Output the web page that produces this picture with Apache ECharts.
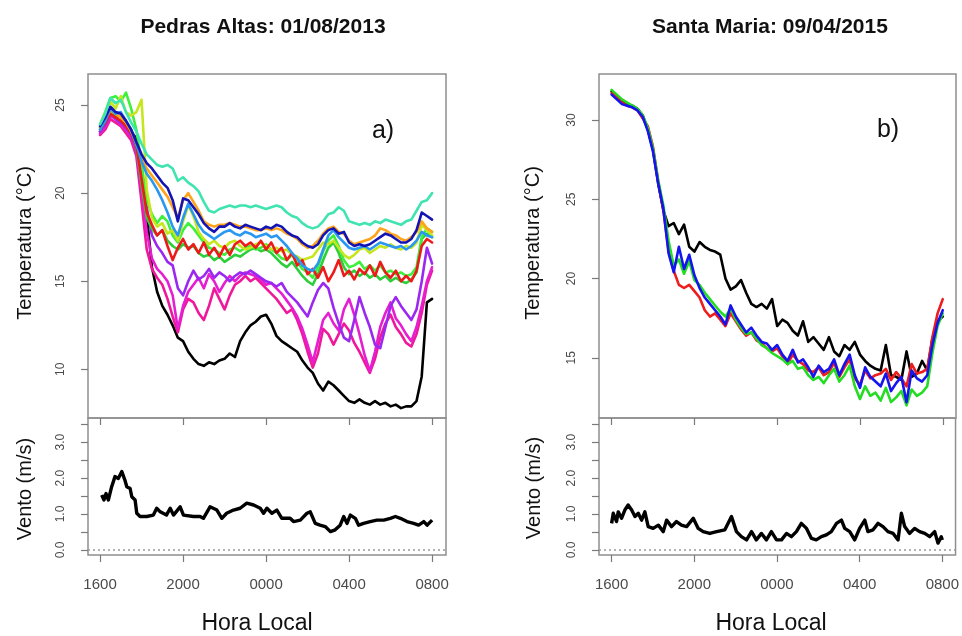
<!DOCTYPE html>
<html>
<head>
<meta charset="utf-8">
<script src="https://cdn.jsdelivr.net/npm/echarts@6/dist/echarts.min.js"></script>
<style>
  html, body { margin: 0; padding: 0; background: #fff; }
  #chart { width: 962px; height: 636px; }
</style>
</head>
<body>
<div id="chart"></div>
<script>
const FONT = '"Liberation Sans", Arial, Helvetica, sans-serif';

// Hours elapsed since 16:00 local time, one sample every 15 minutes (16:00 .. 08:00)
const hours = Array.from({ length: 65 }, (_, i) => i * 0.25);
const hourTicks = [0, 4, 8, 12, 16];
const hourLabels = ['1600', '2000', '0000', '0400', '0800'];

const tempTicksA = [10, 15, 20, 25];
const tempTicksB = [15, 20, 25, 30];
const windTicks = [0, 0.5, 1, 1.5, 2, 2.5, 3, 3.5];
const windLabelTicks = [0, 1, 2, 3];

// ---- Pedras Altas, 01/08/2013: air temperature at each station (°C) ----
const paBlack = [
  23.5,23.8,24.4,24.3,24.0,23.9,23.5,23.1,21.5,18.8,15.8,14.4,13.6,13.1,12.5,11.8,
  11.6,11.0,10.6,10.3,10.2,10.4,10.3,10.5,10.6,10.9,10.7,11.6,12.1,12.5,12.7,13.0,
  13.1,12.6,11.9,11.6,11.4,11.2,11.0,10.5,10.1,9.8,9.2,8.8,9.3,9.1,8.8,8.5,
  8.2,8.1,8.3,8.1,8.0,8.2,8.0,8.1,7.9,8.0,7.8,7.9,7.9,8.2,9.6,13.8,
  14.0];
const paDeepPink = [
  23.3,23.6,24.2,24.0,23.8,23.4,23.0,22.1,19.5,16.8,15.7,15.2,14.8,14.0,13.0,12.1,
  13.4,14.0,13.8,13.2,12.8,13.6,14.6,14.0,13.4,14.2,14.8,15.0,15.3,15.0,15.2,14.9,
  14.6,14.3,14.0,13.6,13.2,13.4,12.8,12.0,11.0,10.1,10.9,12.3,12.0,11.4,12.0,12.6,
  12.2,11.5,11.0,10.4,9.8,10.6,11.8,12.6,13.1,12.4,12.0,11.5,11.3,12.0,13.2,14.8,
  15.6];
const paMagenta = [
  23.4,23.8,24.4,24.2,23.9,23.6,23.2,22.4,20.2,17.8,16.3,15.7,15.4,15.0,14.2,12.3,
  13.6,14.4,14.8,15.2,14.6,15.4,15.0,14.4,14.9,15.3,15.0,15.3,15.5,15.4,15.3,15.1,
  14.8,14.9,14.6,14.3,13.9,13.5,13.0,12.3,11.4,10.4,11.6,12.8,13.2,12.6,12.2,13.4,
  14.0,13.1,12.0,10.8,9.9,11.0,12.4,13.2,13.8,12.9,12.5,12.0,11.6,12.4,13.6,15.0,
  15.8];
const paPurple = [
  23.5,23.9,24.5,24.2,24.0,23.7,23.3,22.5,20.9,19.2,17.6,17.0,16.6,16.1,15.9,14.6,
  14.2,15.0,15.6,15.1,15.3,15.7,15.2,15.5,15.3,15.0,15.3,15.5,15.4,15.6,15.4,15.2,
  15.0,14.9,14.7,14.9,14.4,14.1,13.8,13.4,13.0,13.8,14.5,14.9,14.6,13.5,12.6,11.8,
  11.6,12.8,14.1,13.2,12.4,11.4,11.2,12.4,13.6,14.1,13.6,13.2,12.8,13.4,15.0,16.9,
  16.0];
const paGreen = [
  23.7,24.2,24.6,24.4,24.3,24.0,23.6,22.6,20.5,18.6,18.0,17.6,17.9,17.3,17.0,16.8,
  17.1,16.9,17.0,16.6,16.4,16.5,16.2,16.4,16.1,16.3,16.5,16.4,16.6,16.8,16.9,16.7,
  16.8,16.6,16.3,16.0,15.8,16.1,15.7,15.3,15.0,14.8,15.4,16.2,16.9,17.2,16.6,15.8,
  15.4,15.6,15.3,15.5,15.2,15.4,15.1,15.3,15.0,15.2,15.0,14.9,15.1,15.5,17.4,17.7,
  17.5];
const paLime = [
  23.9,24.6,25.4,25.5,25.2,25.7,24.8,23.6,21.6,19.6,18.8,18.3,18.7,18.4,17.6,17.2,
  17.9,18.3,18.0,17.6,17.2,16.9,16.8,16.6,16.5,16.8,16.9,16.7,16.9,17.0,16.8,16.9,
  17.1,16.8,16.6,16.3,16.2,16.5,16.1,15.7,15.5,15.2,15.8,16.7,17.3,17.6,17.0,16.2,
  15.8,15.9,16.1,15.7,15.9,15.6,15.9,15.5,15.6,15.4,15.5,15.3,15.4,15.8,17.5,18.0,
  17.8];
const paYellowGreen = [
  23.8,24.5,25.2,24.8,25.5,24.6,24.4,24.6,25.3,20.2,18.6,18.1,18.3,17.7,17.9,17.3,
  18.4,19.3,18.7,17.8,17.4,17.1,17.3,17.0,16.9,17.2,17.3,17.0,16.8,16.9,17.1,17.2,
  17.0,16.8,16.9,16.7,16.8,16.5,16.4,16.2,16.3,16.4,16.8,17.2,17.1,17.3,16.9,16.5,
  16.3,16.5,16.8,16.9,16.6,16.8,17.0,16.9,17.1,16.9,16.8,17.0,16.9,17.2,18.2,17.9,
  17.6];
const paRed = [
  23.6,24.0,24.5,24.3,24.1,23.8,23.4,22.7,20.8,18.9,18.2,17.6,17.9,17.0,16.2,16.9,
  17.4,16.8,17.1,16.6,17.2,16.5,16.9,16.4,17.0,16.5,17.1,17.3,17.0,17.2,16.9,17.3,
  16.8,17.2,16.6,16.9,16.2,16.6,15.9,16.2,15.4,15.7,15.2,15.8,15.0,15.5,16.2,15.3,
  15.6,15.1,15.7,15.4,15.9,15.3,16.1,15.5,15.2,15.6,15.0,15.3,15.0,15.6,17.0,17.4,
  17.2];
const paOrange = [
  23.7,24.2,24.7,24.5,24.3,24.0,23.5,22.8,22.0,21.4,21.0,20.6,20.2,19.8,19.2,18.6,
  19.6,20.0,19.5,19.0,18.4,18.2,18.1,18.2,18.2,18.3,18.2,18.1,18.1,18.0,17.9,17.9,
  18.0,17.9,18.0,17.9,17.7,17.6,17.4,17.1,16.9,17.0,17.3,17.7,18.0,18.1,17.8,17.7,
  17.3,17.1,17.2,17.3,17.4,17.6,18.0,17.9,17.7,17.6,17.4,17.3,17.5,17.8,18.4,18.0,
  17.8];
const paSkyBlue = [
  23.6,24.1,24.8,24.5,24.6,24.1,23.6,22.8,21.8,21.1,20.7,20.2,19.6,18.9,18.1,17.6,
  18.6,19.4,18.8,18.2,17.8,17.6,17.4,17.6,17.8,17.9,17.7,17.6,17.8,17.7,17.5,17.6,
  17.7,17.5,17.6,17.3,17.0,16.6,16.3,15.9,15.7,15.6,16.0,16.8,17.6,17.9,17.5,17.2,
  16.9,16.8,16.9,17.0,16.8,17.0,17.2,17.1,17.0,16.9,17.0,16.8,17.0,17.3,17.8,17.6,
  17.5];
const paNavy = [
  23.8,24.3,24.9,24.6,24.5,24.1,23.6,22.9,22.2,21.7,21.4,21.0,20.6,20.3,19.6,18.4,
  19.7,19.6,19.2,18.8,18.3,18.0,17.8,18.1,18.1,18.3,18.1,18.0,18.2,18.1,18.0,17.9,
  18.1,18.0,18.2,18.1,17.8,17.6,17.5,17.2,17.0,16.9,17.1,17.6,17.9,18.0,17.7,17.8,
  17.2,17.0,17.1,17.0,17.1,17.3,17.5,17.7,17.6,17.4,17.2,17.2,17.4,17.9,18.9,18.7,
  18.5];
const paTurquoise = [
  23.9,24.5,25.4,25.1,25.3,24.6,24.0,23.5,22.8,22.2,21.9,21.6,21.5,21.6,21.4,20.7,
  20.9,20.6,20.4,20.1,19.5,19.0,18.9,19.1,19.2,19.3,19.2,19.3,19.3,19.2,19.3,19.2,
  19.1,19.2,19.3,19.2,18.9,18.7,18.6,18.3,18.1,18.0,18.1,18.4,18.8,18.9,19.2,19.0,
  18.4,18.3,18.2,18.3,18.2,18.4,18.3,18.5,18.4,18.3,18.2,18.4,18.5,19.0,19.5,19.6,
  20.0];

// ---- Pedras Altas wind speed (m/s) ----
const windHoursA = [0.08,0.19,0.29,0.4,0.56,0.72,0.88,1.05,1.2,1.29,1.45,1.53,1.69,1.77,1.93,
  2.25,2.57,2.73,2.9,3.2,3.38,3.54,3.86,4.02,4.5,4.82,4.98,5.3,5.63,5.87,6.1,6.43,6.75,
  7.07,7.4,7.72,7.88,8.04,8.28,8.52,8.76,9.16,9.32,9.65,9.97,10.13,10.37,10.6,10.85,11.1,
  11.33,11.57,11.74,11.9,12.06,12.3,12.46,12.7,13.02,13.34,13.67,13.99,14.23,14.47,14.79,
  15.11,15.35,15.6,15.76,16.0];
const windSpeedA = [1.53,1.39,1.57,1.39,1.76,2.04,1.99,2.18,1.94,1.76,1.71,1.48,1.39,1.02,0.93,
  0.93,0.97,1.16,1.06,0.97,1.16,0.97,1.2,0.97,0.93,0.93,0.88,1.2,1.11,0.88,1.02,1.11,1.16,
  1.3,1.25,1.16,1.02,1.16,1.02,1.11,0.88,0.88,0.79,0.83,1.02,1.06,0.74,0.69,0.65,0.51,
  0.56,0.69,0.93,0.74,0.97,0.88,0.69,0.74,0.79,0.83,0.83,0.88,0.93,0.88,0.79,
  0.74,0.69,0.79,0.69,0.83];

// ---- Santa Maria, 09/04/2015: air temperature at each station (°C) ----
const smBlack = [
  31.8,31.5,31.2,31.0,30.9,30.7,30.3,29.4,28.1,26.0,24.3,23.3,23.5,22.8,23.4,22.0,
  21.7,22.3,22.0,21.8,21.7,21.5,20.0,19.3,19.5,19.9,19.1,18.4,18.2,18.4,18.1,18.7,
  17.0,17.4,17.2,16.7,16.4,17.3,16.0,16.3,15.9,15.5,16.3,15.4,15.1,15.8,15.5,16.0,
  15.2,14.8,14.5,14.3,14.2,15.8,13.9,13.8,13.6,15.4,13.8,14.0,14.8,14.2,16.2,17.3,
  17.6];
const smRed = [
  31.7,31.4,31.1,30.9,30.8,30.6,30.1,29.6,28.3,26.1,24.3,21.8,20.5,19.6,19.4,19.6,
  19.2,18.8,18.0,17.6,17.8,17.4,17.0,17.8,17.3,16.8,16.4,16.6,16.1,15.9,15.6,15.4,
  15.6,15.1,14.6,15.2,14.8,14.6,14.2,14.1,14.4,13.9,14.1,14.7,13.8,14.4,14.9,13.7,
  13.3,14.2,13.7,13.9,14.0,14.3,13.6,14.1,13.7,13.2,14.6,14.0,14.1,14.3,16.3,17.8,
  18.7];
const smGreen = [
  31.9,31.6,31.3,31.1,30.9,30.7,30.3,29.5,28.2,26.2,24.6,22.4,20.8,21.2,20.3,21.1,
  19.9,19.6,19.1,18.7,18.3,17.9,17.6,18.1,17.4,16.9,16.5,16.6,16.2,15.8,15.6,15.3,
  15.1,14.9,14.6,14.8,14.3,14.4,13.9,13.6,13.8,13.4,13.9,14.3,13.5,13.9,14.5,13.2,
  12.4,13.2,12.6,12.8,12.3,13.1,12.2,12.5,12.9,12.0,13.0,12.6,12.8,13.2,15.3,17.0,
  17.8];
const smBlue = [
  31.6,31.3,31.0,30.9,30.8,30.6,30.2,29.3,28.0,26.0,24.4,21.6,20.4,22.0,20.6,21.5,
  20.2,19.4,18.8,18.4,18.0,17.6,17.1,18.3,17.6,17.1,16.6,16.9,16.4,16.0,15.9,15.5,
  15.8,15.2,14.8,15.5,14.7,14.9,14.4,13.8,14.5,14.1,14.3,14.9,13.9,14.6,15.2,13.9,
  13.1,14.4,13.8,13.5,13.2,14.0,12.9,13.4,13.8,12.2,14.2,13.7,13.5,13.9,15.8,17.2,
  18.0];

// ---- Santa Maria wind speed (m/s) ----
const windHoursB = [0,0.08,0.24,0.32,0.48,0.64,0.8,0.97,1.13,1.29,1.45,1.61,1.77,2.01,2.26,
  2.5,2.66,2.9,3.14,3.38,3.63,3.95,4.19,4.43,4.75,5.08,5.48,5.8,6.04,6.28,6.53,6.77,7.0,
  7.25,7.49,7.73,7.98,8.22,8.46,8.7,8.94,9.18,9.43,9.67,9.9,10.15,10.39,10.63,10.88,11.12,
  11.28,11.52,11.76,12.0,12.25,12.4,12.65,12.89,13.13,13.37,13.62,13.86,14.02,14.18,14.42,
  14.66,14.9,15.15,15.39,15.63,15.79,15.95,16.0];
const windSpeedB = [0.74,1.02,0.79,1.06,0.88,1.11,1.25,1.11,0.93,1.02,0.83,1.06,0.65,0.6,0.69,
  0.51,0.83,0.65,0.79,0.69,0.65,0.88,0.6,0.51,0.46,0.51,0.56,0.93,0.51,0.37,0.28,0.51,0.28,
  0.46,0.28,0.51,0.28,0.28,0.46,0.37,0.51,0.74,0.6,0.32,0.28,0.37,0.42,0.51,0.74,0.83,
  0.6,0.51,0.28,0.6,0.83,0.51,0.56,0.74,0.65,0.51,0.46,0.28,1.02,0.65,0.46,
  0.6,0.51,0.46,0.37,0.51,0.19,0.37,0.28];

// Station series for each site, in drawing order
const stationsA = [
  { values: paBlack,       color: '#000000' },
  { values: paDeepPink,    color: '#f0189a' },
  { values: paMagenta,     color: '#e61ed2' },
  { values: paPurple,      color: '#9b28f0' },
  { values: paGreen,       color: '#2ccf3a' },
  { values: paLime,        color: '#3cf03c' },
  { values: paYellowGreen, color: '#c6e61e' },
  { values: paRed,         color: '#ee1a1a' },
  { values: paOrange,      color: '#ffa31a' },
  { values: paSkyBlue,     color: '#2a98f0' },
  { values: paNavy,        color: '#1414b4' },
  { values: paTurquoise,   color: '#40e4b0' }
];
const stationsB = [
  { values: smBlack, color: '#000000' },
  { values: smRed,   color: '#ee1c1c' },
  { values: smGreen, color: '#22dd22' },
  { values: smBlue,  color: '#1414ee' }
];

const AXIS_GRAY = '#7a7a7a';
const LABEL_GRAY = '#4a4a4a';

function xAxisFor(gridIndex, min, max, showLabels) {
  return {
    type: 'value', gridIndex, min, max,
    axisLine: { show: false, onZero: false },
    splitLine: { show: false },
    axisTick: { show: true, inside: false, length: 7, customValues: hourTicks,
                lineStyle: { color: AXIS_GRAY, width: 1.2 } },
    axisLabel: { show: showLabels, customValues: hourTicks, margin: 22,
                 formatter: v => hourLabels[hourTicks.indexOf(v)],
                 fontSize: 15, color: LABEL_GRAY, fontFamily: FONT }
  };
}

function tempAxis(gridIndex, min, max, ticks) {
  return {
    type: 'value', gridIndex, min, max,
    axisLine: { show: false, onZero: false },
    splitLine: { show: false },
    axisTick: { show: true, inside: false, length: 7, customValues: ticks,
                lineStyle: { color: AXIS_GRAY, width: 1.2 } },
    axisLabel: { customValues: ticks, rotate: 90, margin: 21, fontSize: 12,
                 color: LABEL_GRAY, fontFamily: FONT, formatter: v => String(v) }
  };
}

function windAxis(gridIndex) {
  return {
    type: 'value', gridIndex, min: -0.14, max: 3.67,
    axisLine: { show: false, onZero: false },
    splitLine: { show: false },
    axisTick: { show: true, inside: false, length: 7, customValues: windTicks,
                lineStyle: { color: AXIS_GRAY, width: 1.2 } },
    axisLabel: { customValues: windLabelTicks, rotate: 90, margin: 21, fontSize: 12,
                 color: LABEL_GRAY, fontFamily: FONT, formatter: v => v.toFixed(1) }
  };
}

function tempSeries(list, axisIndex) {
  return list.map(s => ({
    type: 'line', xAxisIndex: axisIndex, yAxisIndex: axisIndex,
    data: hours.map((h, i) => [h, s.values[i]]),
    symbol: 'none', showSymbol: false, smooth: false,
    lineStyle: { color: s.color, width: 2.6, cap: 'round', join: 'round' },
    itemStyle: { color: s.color },
    silent: true, animation: false
  }));
}

function windSeries(times, speeds, axisIndex) {
  return {
    type: 'line', xAxisIndex: axisIndex, yAxisIndex: axisIndex,
    data: times.map((h, i) => [h, speeds[i]]),
    symbol: 'none', showSymbol: false,
    lineStyle: { color: '#000', width: 3.4, join: 'round' },
    itemStyle: { color: '#000' },
    silent: true, animation: false,
    markLine: {
      silent: true, symbol: ['none', 'none'], label: { show: false },
      lineStyle: { color: '#9a9a9a', type: [2, 3], width: 1.6 },
      data: [{ yAxis: 0 }]
    }
  };
}

function gridBox(left, top, width, height) {
  return { left, top, width, height, show: true, backgroundColor: 'transparent',
           borderColor: '#8f8f8f', borderWidth: 1.5 };
}

function label(text, x, y, size, extra) {
  return Object.assign({
    type: 'text', x, y, silent: true,
    style: Object.assign({ text, fontSize: size, fontFamily: FONT, fill: '#111',
                           align: 'center', verticalAlign: 'middle' }, extra && extra.style)
  }, extra && extra.rotation !== undefined ? { rotation: extra.rotation } : {});
}

const option = {
  backgroundColor: '#ffffff',
  animation: false,
  grid: [
    gridBox(88, 74, 358, 344),
    gridBox(88, 418, 358, 137),
    gridBox(599, 74, 357, 344),
    gridBox(599, 418, 357, 137)
  ],
  xAxis: [
    xAxisFor(0, -0.58, 16.67, false),
    xAxisFor(1, -0.58, 16.67, true),
    xAxisFor(2, -0.61, 16.64, false),
    xAxisFor(3, -0.61, 16.64, true)
  ],
  yAxis: [
    tempAxis(0, 7.24, 26.76, tempTicksA),
    windAxis(1),
    tempAxis(2, 11.2, 32.9, tempTicksB),
    windAxis(3)
  ],
  series: [
    ...tempSeries(stationsA, 0),
    windSeries(windHoursA, windSpeedA, 1),
    ...tempSeries(stationsB, 2),
    windSeries(windHoursB, windSpeedB, 3)
  ],
  graphic: [
    label('Pedras Altas: 01/08/2013', 263, 27, 21, { style: { fontWeight: 'bold' } }),
    label('Santa Maria: 09/04/2015', 770, 27, 21, { style: { fontWeight: 'bold' } }),
    label('a)', 383, 131, 25),
    label('b)', 888, 130, 25),
    label('Temperatura (°C)', 25, 243, 20, { rotation: Math.PI / 2 }),
    label('Temperatura (°C)', 533, 243, 20, { rotation: Math.PI / 2 }),
    label('Vento (m/s)', 25, 489, 20, { rotation: Math.PI / 2 }),
    label('Vento (m/s)', 534, 488, 20, { rotation: Math.PI / 2 }),
    label('Hora Local', 257, 624, 23),
    label('Hora Local', 771, 624, 23)
  ]
};

const chart = echarts.init(document.getElementById('chart'), null, { renderer: 'canvas' });
chart.setOption(option);
</script>
</body>
</html>
